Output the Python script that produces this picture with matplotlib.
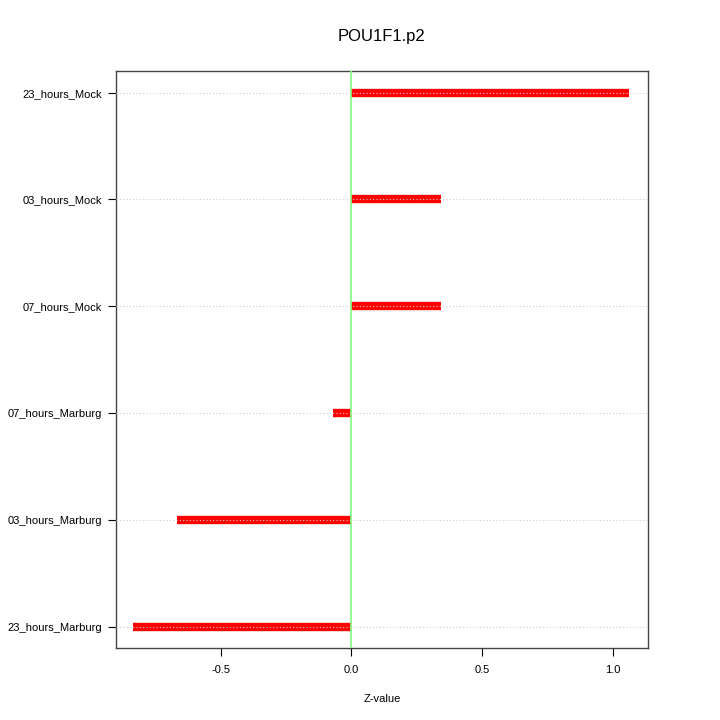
import numpy as np
import matplotlib.pyplot as plt

labels = ['23_hours_Marburg', '03_hours_Marburg', '07_hours_Marburg',
          '07_hours_Mock', '03_hours_Mock', '23_hours_Mock']
values = [-0.835, -0.668, -0.069, 0.342, 0.342, 1.062]

plt.rcParams['font.family'] = ['Liberation Sans', 'DejaVu Sans']

fig = plt.figure(figsize=(7.2, 7.2), dpi=100)
ax = fig.add_axes([0.161, 0.1, 0.739, 0.801])

ypos = np.arange(1, len(labels) + 1)
for y, v in zip(ypos, values):
    ax.plot([0, v], [y, y], color='red', linewidth=6, solid_capstyle='butt', zorder=2)
    ax.axhline(y, color='#cccccc', linestyle=(0, (1, 2)), linewidth=0.8, zorder=3)
ax.axvline(0, color='#80ff80', linewidth=1.2, zorder=4)

ax.set_xlim(-0.9, 1.135)
ax.set_ylim(0.8, 6.2)
ax.set_yticks(ypos)
ax.set_yticklabels(labels, fontsize=8)
ax.set_xticks([-0.5, 0.0, 0.5, 1.0])
ax.set_xticklabels(['-0.5', '0.0', '0.5', '1.0'], fontsize=8)
ax.tick_params(axis='x', length=6, pad=6)
ax.tick_params(axis='y', length=6, pad=4)
for s in ax.spines.values():
    s.set_color('#444444')
    s.set_linewidth(1.0)
ax.set_xlabel('Z-value', fontsize=8, labelpad=14)
ax.set_title('POU1F1.p2', fontsize=12, pad=22)

fig.savefig('out.png', dpi=100)
